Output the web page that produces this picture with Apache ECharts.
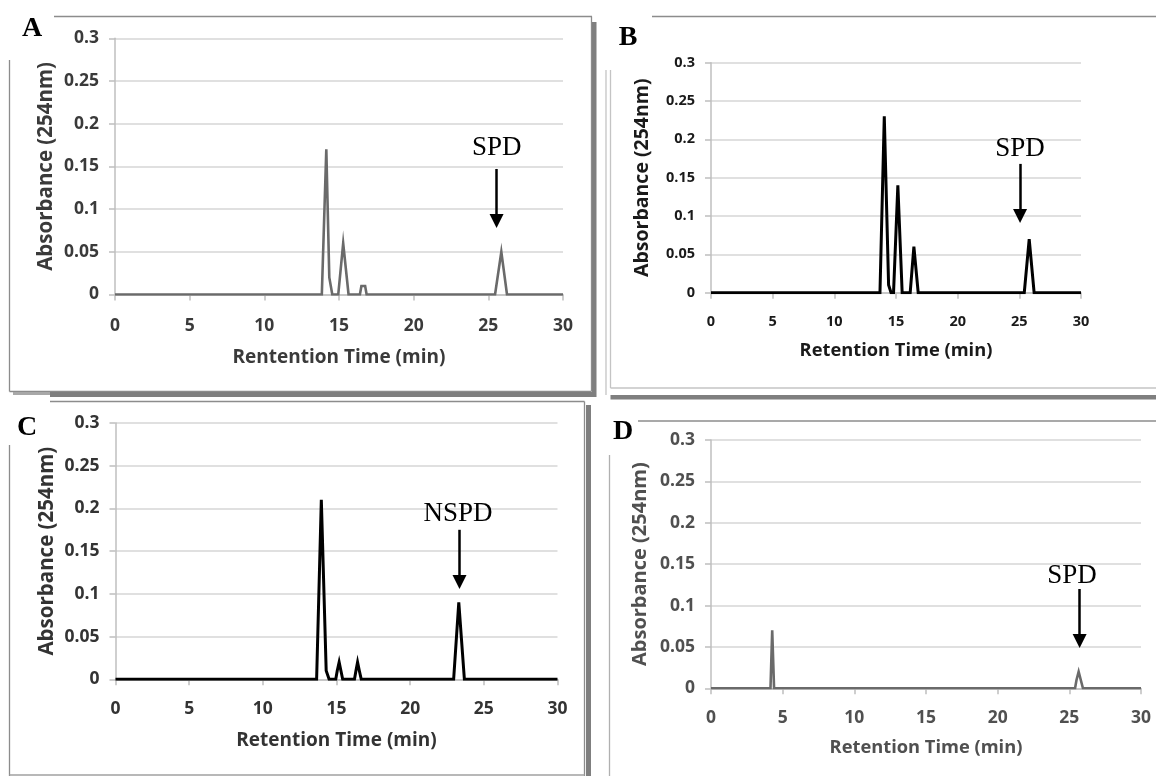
<!DOCTYPE html>
<html>
<head>
<meta charset="utf-8">
<script src="https://cdn.jsdelivr.net/npm/echarts@6/dist/echarts.min.js"></script>
<style>
html,body{margin:0;padding:0;background:#fff;}
#chart{width:1156px;height:776px;}
</style>
</head>
<body>
<div id="chart"></div>
<script>
// ---- tick labels ----
const xTickLabels = ['0','5','10','15','20','25','30'];
const yTickLabels = ['0','0.05','0.1','0.15','0.2','0.25','0.3'];

// ---- panel titles / labels ----
const panelLetters = ['A','B','C','D'];
const xTitles = ['Rentention Time (min)','Retention Time (min)','Retention Time (min)','Retention Time (min)'];
const yTitle = 'Absorbance (254nm)';

// ---- chromatogram data (retention time, min) / (absorbance) ----
const timeA = [0, 13.85, 14.15, 14.35, 14.55, 14.95, 15.28, 15.64, 16.4, 16.5, 16.75, 16.85, 25.45, 25.87, 26.25, 30];
const absA  = [0, 0,     0.17,  0.02,  0,     0,     0.06,  0,     0,    0.01, 0.01,  0,     0,     0.05,  0,     0];

const timeB = [0, 13.7, 14.05, 14.4, 14.6, 14.8, 15.15, 15.5, 16.15, 16.45, 16.8, 25.4, 25.8, 26.2, 30];
const absB  = [0, 0,    0.23,  0.01, 0,    0,    0.14,  0,    0,     0.06,  0,    0,    0.07, 0,    0];

const timeC = [0, 13.65, 13.97, 14.3, 14.5, 14.95, 15.05, 15.18, 15.3, 15.42, 16.22, 16.32, 16.43, 16.55, 16.68, 22.95, 23.3, 23.68, 30];
const absC  = [0, 0,     0.21,  0.01, 0,    0,     0.01,  0.02,  0.01, 0,     0,     0.01,  0.02,  0.01,  0,     0,     0.09, 0,     0];

const timeD = [0, 4.15, 4.27, 4.4, 25.4, 25.5, 25.65, 25.8, 25.95, 30];
const absD  = [0, 0,    0.07, 0,   0,    0.01, 0.02,  0.01, 0,     0];

// ---- peak annotations: label, x, label y, arrow start y, arrow head y ----
const annLabels = ['SPD', 'SPD', 'NSPD', 'SPD'];
const annArrowX = [25.55, 25.06, 23.35, 25.72];
const annTextX  = [25.57, 25.06, 23.25, 25.19];
const annTextY  = [0.172, 0.187, 0.194, 0.136];
const annFromY  = [0.147, 0.168, 0.175, 0.120];
const annToY    = [0.086, 0.100, 0.114, 0.057];

const times = [timeA, timeB, timeC, timeD];
const abss = [absA, absB, absC, absD];

// ---- layout/styles ----
const grids = [
  {left:115, top:38.3, width:448, height:256.2},
  {left:711, top:62.7, width:370, height:230},
  {left:115.5, top:423, width:442, height:256.3},
  {left:711, top:440, width:430, height:248.3}
];
const lineColors = ['#6a6a6a','#000000','#000000','#6a6a6a'];
const lineWidths = [2.6, 3, 3, 2.6];
const tickFont = [17.5, 14.5, 17.5, 17.5];
const tickColor = ['#3a3a3a','#1a1a1a','#333333','#505050'];
const tickWeight = ['bold','bold','bold','bold'];
const xLabelMargin = [23, 22, 21, 21];
const yLabelMargin = [16, 16, 16, 16];
const xNameSize = [19, 18.3, 19, 18.3];
const yNameSize = [20.5, 19.5, 20.5, 20];
const xNameGap = [54, 49, 52, 50];
const yNameGap = [58, 59, 58, 61];

const FONT = '"Open Sans", "Liberation Sans", sans-serif';

const xAxes = [], yAxes = [], series = [];
for (let i = 0; i < 4; i++) {
  xAxes.push({
    type:'value', gridIndex:i, min:0, max:30, interval:5,
    name:xTitles[i], nameLocation:'middle', nameGap:xNameGap[i],
    nameTextStyle:{fontFamily:FONT, fontWeight:tickWeight[i], fontSize:xNameSize[i], color:tickColor[i]},
    axisLine:{show:true, onZero:false, lineStyle:{color:'#bfbfbf', width:1.5}},
    axisTick:{show:true, length:6, lineStyle:{color:'#bfbfbf', width:1.5}},
    axisLabel:{margin:xLabelMargin[i], fontFamily:FONT, fontWeight:tickWeight[i], fontSize:tickFont[i], color:tickColor[i],
      formatter:(v, idx) => xTickLabels[idx] !== undefined ? xTickLabels[idx] : String(v)},
    splitLine:{show:false}
  });
  yAxes.push({
    type:'value', gridIndex:i, min:0, max:0.3, interval:0.05,
    name:yTitle, nameLocation:'middle', nameGap:yNameGap[i],
    nameTextStyle:{fontFamily:FONT, fontWeight:tickWeight[i], fontSize:yNameSize[i], color:tickColor[i]},
    axisLine:{show:true, lineStyle:{color:'#bfbfbf', width:1.5}},
    axisTick:{show:true, length:6, lineStyle:{color:'#bfbfbf', width:1.5}},
    axisLabel:{margin:yLabelMargin[i], fontFamily:FONT, fontWeight:tickWeight[i], fontSize:tickFont[i], color:tickColor[i],
      formatter:(v, idx) => yTickLabels[idx] !== undefined ? yTickLabels[idx] : String(v)},
    splitLine:{show:true, lineStyle:{color:'#d6d6d6', width:1.5}}
  });
  series.push({
    type:'line', xAxisIndex:i, yAxisIndex:i,
    data: times[i].map((t, k) => [t, abss[i][k]]),
    showSymbol:false, symbol:'none', silent:true, animation:false,
    lineStyle:{color:lineColors[i], width:lineWidths[i], join:'miter'},
    markLine:{
      silent:true, animation:false,
      symbol:['none','triangle'], symbolSize:14,
      label:{show:false},
      lineStyle:{type:'solid', color:'#000', width:2.5},
      emphasis:{disabled:true},
      data:[[{coord:[annArrowX[i], annFromY[i]]}, {coord:[annArrowX[i], annToY[i]]}]]
    },
    markPoint:{
      silent:true, animation:false,
      symbol:'rect', symbolSize:1, itemStyle:{color:'rgba(0,0,0,0)'},
      label:{show:true, position:'inside', formatter:p => p.name,
        fontFamily:'"Liberation Serif", serif', fontSize:27, color:'#000'},
      data:[{name:annLabels[i], coord:[annTextX[i], annTextY[i]]}]
    }
  });
}

// ---- frames and panel letters (decoration) ----
const G = '#8c8c8c', S = '#7f7f7f', L = '#c4c4c4';
function ln(x1,y1,x2,y2,c,w){return {type:'line', silent:true, shape:{x1,y1,x2,y2}, style:{stroke:c, lineWidth:w||1.3}};}
function rc(x,y,w,h,c){return {type:'rect', silent:true, shape:{x,y,width:w,height:h}, style:{fill:c}};}
const graphics = [
  // frame A
  ln(54,16.5,592,16.5,G), ln(9.5,60,9.5,391.5,G), ln(9.5,391.5,591.5,391.5,G), ln(591.5,16.5,591.5,391.5,G),
  rc(592,22,4.5,375,S), rc(50,392,546,5,S), rc(13,392,37,3,'#a8a8a8'),
  // frame B
  ln(652,16.5,1156,16.5,G), ln(606,70,606,395,L), ln(610.5,70,610.5,388,L), ln(610.5,388,1156,388,L),
  rc(610.5,395,546,4.5,S),
  // frame C
  ln(50,401.5,584.5,401.5,G), ln(584.5,401.5,584.5,776,G), rc(586,405,5,371,S),
  ln(9.5,445,9.5,776,G), ln(9.5,775,584.5,775,'#a0a0a0'),
  // frame D
  ln(638,421,1156,421,G), ln(609.5,455,609.5,776,'#b0b0b0')
];
const letterPos = [[32,29],[628,38],[27,428],[623,432]];
panelLetters.forEach((t, i) => {
  graphics.push({type:'text', silent:true, style:{text:t, x:letterPos[i][0], y:letterPos[i][1],
    align:'center', verticalAlign:'middle', font:'bold 28px "Liberation Serif", serif', fill:'#000'}});
});

const chart = echarts.init(document.getElementById('chart'), null, {renderer:'canvas'});
chart.setOption({
  backgroundColor:'#ffffff',
  animation:false,
  grid: grids.map(g => Object.assign({containLabel:false}, g)),
  xAxis:xAxes, yAxis:yAxes, series:series,
  graphic:graphics
});
</script>
</body>
</html>
